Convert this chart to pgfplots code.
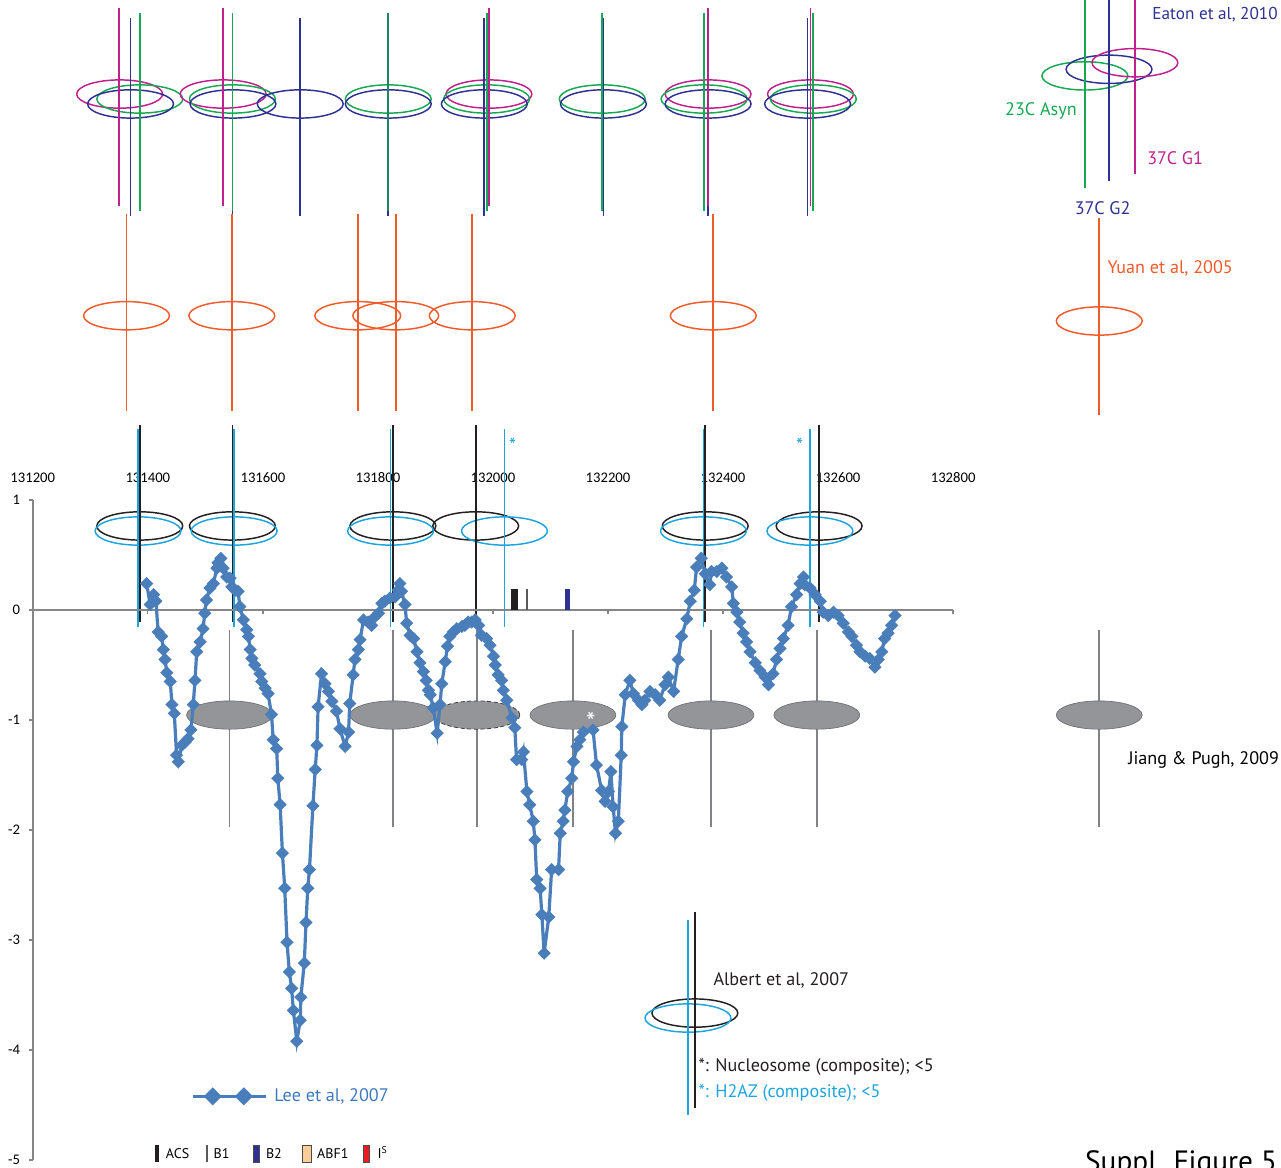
\documentclass[border=0pt]{standalone}
\usepackage{fontspec}
\usepackage{pgfplots}
\pgfplotsset{compat=1.18}
\setmainfont{PT Sans}
\newfontfamily\tickfont{Carlito}

\definecolor{leeblue}{RGB}{74,126,187}
\definecolor{leetext}{RGB}{62,120,190}
\definecolor{eatmag}{RGB}{192,32,142}
\definecolor{eatgreen}{RGB}{22,168,82}
\definecolor{eatblue}{RGB}{46,49,146}
\definecolor{yuanorange}{RGB}{241,90,41}
\definecolor{h2az}{RGB}{28,164,222}
\definecolor{nucblack}{RGB}{35,31,32}
\definecolor{jpgray}{RGB}{128,130,133}
\definecolor{jpfill}{RGB}{147,149,152}
\definecolor{axgray}{RGB}{134,134,134}
\definecolor{abfpeach}{RGB}{252,204,153}
\definecolor{isred}{RGB}{237,28,36}

% vertical position marker: style, x, y top, y bottom
\newcommand{\vstem}[4]{\draw[#1, line width=1.3pt] (axis cs:#2,#3) -- (axis cs:#2,#4);}
% nucleosome outline: style, centre x, centre y
\newcommand{\ring}[3]{\draw[#1, line width=1.1pt] (axis cs:#2,#3) ellipse [x radius=32.2pt, y radius=10.6pt];}
% filled nucleosome (Jiang & Pugh)
\newcommand{\disc}[2]{\filldraw[fill=jpfill, draw=jpgray!85!black, line width=0.5pt] (axis cs:#1,#2) ellipse [x radius=32.2pt, y radius=10.6pt];}

\newcommand{\annot}[5]{\node[anchor=base west, inner sep=0pt, text=#1, font=\fontsize{#2}{#2}\selectfont] at (axis cs:#3,#4) {#5};}

\begin{document}
\begin{tikzpicture}
\begin{axis}[
  scale only axis, width=690.2pt, height=495pt,
  xmin=131200, xmax=132800, ymin=-5, ymax=1,
  clip=false,
  scaled ticks=false,
  axis y line*=left, axis x line*=top,
  x axis line style={draw=none},
  y axis line style={axgray, line width=1.1pt},
  xtick={131200,131400,131600,131800,132000,132200,132400,132600,132800},
  xticklabels={131200,131400,131600,131800,132000,132200,132400,132600,132800},
  ytick={-5,-4,-3,-2,-1,0,1},
  yticklabels={-5,-4,-3,-2,-1,0,1},
  x tick style={draw=none},
  y tick style={axgray, line width=1.1pt},
  tick align=outside, major tick length=3pt,
  ticklabel style={font=\tickfont\fontsize{11}{13}\selectfont, text=black},
  xticklabel style={anchor=south, yshift=6.5pt},
  yticklabel style={xshift=-3pt},
  legend style={at={(axis cs:131476,-4.421)}, anchor=west, draw=none, fill=none,
    inner sep=0pt, outer sep=0pt, font=\fontsize{13.6}{15}\selectfont, text=leetext},
  legend image code/.code={
    \draw[#1, mark=none] (0pt,0pt) -- (54.75pt,0pt);
    \draw[#1, only marks, mark size=3.6pt] plot coordinates {(14.7pt,0pt) (38pt,0pt)};
  },
]

% ---------- Eaton et al, 2010 (magenta 37C G1, green 23C Asyn, blue 37C G2)
\ring{eatmag}{131351}{4.69}\ring{eatgreen}{131386}{4.645}\ring{eatblue}{131370}{4.60}
\vstem{eatmag}{131350}{5.473}{3.673}\vstem{eatblue}{131370}{5.382}{3.582}\vstem{eatgreen}{131386}{5.427}{3.627}

\ring{eatmag}{131531}{4.69}\ring{eatgreen}{131547}{4.645}\ring{eatblue}{131548}{4.60}
\vstem{eatmag}{131531}{5.473}{3.673}\vstem{eatblue}{131547}{5.382}{3.582}\vstem{eatgreen}{131547}{5.427}{3.627}

\ring{eatblue}{131665}{4.60}
\vstem{eatblue}{131665}{5.382}{3.582}

\ring{eatgreen}{131818}{4.645}\ring{eatblue}{131818}{4.60}
\vstem{eatblue}{131818}{5.382}{3.582}\vstem{eatgreen!70!eatblue}{131818}{5.427}{3.627}

\ring{eatmag}{131993}{4.69}\ring{eatgreen}{131989}{4.645}\ring{eatblue}{131985}{4.60}
\vstem{eatblue}{131985}{5.382}{3.582}\vstem{eatgreen}{131990}{5.427}{3.627}\vstem{eatmag}{131993}{5.473}{3.673}

\ring{eatgreen}{132190}{4.645}\ring{eatblue}{132192}{4.60}
\vstem{eatblue}{132192}{5.382}{3.582}\vstem{eatgreen}{132190}{5.427}{3.627}

\ring{eatmag}{132374}{4.69}\ring{eatgreen}{132367}{4.645}\ring{eatblue}{132374}{4.60}
\vstem{eatblue}{132374}{5.382}{3.582}\vstem{eatgreen}{132367}{5.427}{3.627}\vstem{eatmag}{132374}{5.473}{3.673}

\ring{eatmag}{132552}{4.69}\ring{eatgreen}{132557}{4.645}\ring{eatblue}{132547}{4.60}
\vstem{eatblue}{132547}{5.382}{3.582}\vstem{eatmag}{132552}{5.473}{3.673}\vstem{eatgreen}{132557}{5.427}{3.627}

% key
\ring{eatgreen}{133029}{4.855}\ring{eatblue}{133071}{4.915}\ring{eatmag}{133116}{4.975}
\vstem{eatgreen}{133029}{5.6}{3.839}\vstem{eatblue}{133071}{5.6}{3.90}\vstem{eatmag}{133116}{5.6}{3.961}
\annot{eatblue}{12.9}{133146}{5.364}{Eaton et al, 2010}
\annot{eatgreen}{13.6}{132890}{4.494}{23C Asyn}
\annot{eatmag}{13.6}{133137}{4.052}{37C G1}
\annot{eatblue}{13.6}{133011}{3.591}{37C G2}

% ---------- Yuan et al, 2005
\ring{yuanorange}{131363}{2.675}\ring{yuanorange}{131546}{2.675}\ring{yuanorange}{131765}{2.675}
\ring{yuanorange}{131831}{2.675}\ring{yuanorange}{131964}{2.675}\ring{yuanorange}{132383}{2.675}
\vstem{yuanorange}{131363}{3.60}{1.809}\vstem{yuanorange}{131546}{3.60}{1.809}\vstem{yuanorange}{131765}{3.60}{1.809}
\vstem{yuanorange}{131831}{3.60}{1.809}\vstem{yuanorange}{131964}{3.60}{1.809}\vstem{yuanorange}{132383}{3.60}{1.809}
\ring{yuanorange}{133054}{2.627}
\vstem{yuanorange}{133054}{3.564}{1.773}
\annot{yuanorange}{13.6}{133068}{3.055}{Yuan et al, 2005}

% ---------- Albert et al, 2007 (nucleosome black, H2A.Z cyan)
\ring{nucblack}{131386}{0.764}\ring{nucblack}{131547}{0.764}\ring{nucblack}{131826}{0.764}
\ring{nucblack}{131970}{0.764}\ring{nucblack}{132369}{0.764}\ring{nucblack}{132567}{0.764}
\ring{h2az}{131383}{0.718}\ring{h2az}{131550}{0.718}\ring{h2az}{131822}{0.718}
\ring{h2az}{132020}{0.718}\ring{h2az}{132366}{0.718}\ring{h2az}{132551}{0.718}
\vstem{nucblack}{131386}{1.685}{-0.106}\vstem{nucblack}{131547}{1.685}{-0.106}\vstem{nucblack}{131826}{1.685}{-0.106}
\vstem{nucblack}{131970}{1.685}{-0.106}\vstem{nucblack}{132369}{1.685}{-0.106}\vstem{nucblack}{132567}{1.685}{-0.106}
\vstem{h2az}{131383}{1.645}{-0.152}\vstem{h2az}{131550}{1.645}{-0.152}\vstem{h2az}{131822}{1.645}{-0.152}
\vstem{h2az}{132020}{1.645}{-0.152}\vstem{h2az}{132366}{1.645}{-0.152}\vstem{h2az}{132551}{1.645}{-0.152}
\node[text=h2az, font=\fontsize{15}{15}\selectfont, inner sep=0pt] at (axis cs:132034,1.50) {*};
\node[text=h2az, font=\fontsize{15}{15}\selectfont, inner sep=0pt] at (axis cs:132533,1.50) {*};
% key
\ring{nucblack}{132351}{-3.664}\ring{h2az}{132339}{-3.709}
\vstem{nucblack}{132351}{-2.745}{-4.527}\vstem{h2az}{132339}{-2.818}{-4.59}
\annot{nucblack}{13.6}{132383}{-3.409}{Albert et al, 2007}
\annot{nucblack}{13.6}{132357}{-4.191}{*: Nucleosome (composite); <5}
\annot{h2az}{13.6}{132357}{-4.436}{*: H2AZ (composite); <5}

% ---------- Jiang & Pugh, 2009
\vstem{jpgray}{131542}{-0.182}{-1.973}\vstem{jpgray}{131826}{-0.182}{-1.973}\vstem{jpgray}{131972}{-0.182}{-1.973}
\vstem{jpgray}{132139}{-0.182}{-1.973}\vstem{jpgray}{132379}{-0.182}{-1.973}\vstem{jpgray}{132563}{-0.182}{-1.973}
\vstem{jpgray}{133054}{-0.182}{-1.973}
\disc{131542}{-0.955}\disc{131826}{-0.955}\disc{132139}{-0.955}
\disc{132379}{-0.955}\disc{132563}{-0.955}\disc{133054}{-0.955}
\filldraw[fill=jpfill, draw=black!75, line width=0.6pt, dash pattern=on 3pt off 2pt]
  (axis cs:131972,-0.955) ellipse [x radius=32.2pt, y radius=10.6pt];
\node[text=white, font=\fontsize{20}{20}\selectfont, inner sep=0pt] at (axis cs:132170,-1.02) {*};
\annot{black}{13.6}{133104}{-1.40}{Jiang \& Pugh, 2009}

% ---------- x axis through zero with its ticks
\draw[axgray, line width=1.1pt] (axis cs:131200,0) -- (axis cs:132800,0);
\draw[axgray, line width=1pt] (axis cs:131200,0) -- (axis cs:131200,-0.035)
  (axis cs:131400,0) -- (axis cs:131400,-0.035) (axis cs:131600,0) -- (axis cs:131600,-0.035)
  (axis cs:131800,0) -- (axis cs:131800,-0.035) (axis cs:132000,0) -- (axis cs:132000,-0.035)
  (axis cs:132200,0) -- (axis cs:132200,-0.035) (axis cs:132400,0) -- (axis cs:132400,-0.035)
  (axis cs:132600,0) -- (axis cs:132600,-0.035) (axis cs:132800,0) -- (axis cs:132800,-0.035);

% ---------- sequence elements: ACS, B1, B2
\addplot[ycomb, mark=none, nucblack, line width=5pt, forget plot] coordinates {(132037,0.194)};
\addplot[ycomb, mark=none, black!65, line width=1.5pt, forget plot] coordinates {(132060,0.194)};
\addplot[ycomb, mark=none, eatblue, line width=3.6pt, forget plot] coordinates {(132129,0.194)};

% ---------- Lee et al, 2007 nucleosome occupancy
\addplot[leeblue, line width=2.4pt, mark=square*, mark size=2.3pt,
  mark options={rotate=45, solid}] coordinates {
(131398,0.24) (131404,0.05) (131410,0.14) (131414,0.08) (131418,-0.20)
(131424,-0.24) (131427,-0.36) (131430,-0.45) (131433,-0.57) (131439,-0.65)
(131442,-0.86) (131446,-0.94) (131450,-1.32) (131453,-1.38) (131459,-1.23)
(131465,-1.20) (131470,-1.17) (131475,-1.09) (131479,-0.86) (131482,-0.64)
(131485,-0.38) (131491,-0.29) (131496,-0.17) (131499,-0.03) (131502,0.09)
(131508,0.20) (131514,0.24) (131520,0.38) (131522,0.43) (131527,0.47)
(131531,0.38) (131537,0.30) (131543,0.29) (131546,0.21) (131552,0.18)
(131557,0.17) (131560,0.03) (131566,-0.09) (131572,-0.18) (131575,-0.24)
(131578,-0.36) (131581,-0.44) (131586,-0.50) (131595,-0.58) (131598,-0.65)
(131604,-0.71) (131609,-0.76) (131615,-0.95) (131618,-1.18) (131624,-1.26)
(131626,-1.53) (131630,-1.77) (131634,-2.21) (131638,-2.53) (131642,-3.02)
(131646,-3.29) (131650,-3.44) (131653,-3.64) (131659,-3.92) (131665,-3.73)
(131666,-3.52) (131672,-3.21) (131675,-2.84) (131678,-2.53) (131681,-2.36)
(131687,-1.78) (131691,-1.45) (131694,-1.23) (131696,-0.88) (131702,-0.58)
(131708,-0.67) (131714,-0.74) (131720,-0.83) (131728,-0.92) (131734,-1.08)
(131743,-1.24) (131749,-1.11) (131751,-0.85) (131757,-0.59) (131760,-0.45)
(131766,-0.36) (131769,-0.27) (131775,-0.09) (131783,-0.11) (131789,-0.14)
(131795,-0.06) (131801,-0.03) (131807,0.06) (131812,0.08) (131821,0.11)
(131830,0.12) (131835,0.18) (131838,0.24) (131841,0.17) (131847,0.05)
(131850,-0.12) (131856,-0.23) (131862,-0.26) (131868,-0.38) (131873,-0.48)
(131879,-0.56) (131884,-0.64) (131888,-0.73) (131891,-0.77) (131896,-0.89)
(131903,-1.12) (131908,-0.86) (131911,-0.67) (131917,-0.47) (131921,-0.33)
(131925,-0.24) (131931,-0.20) (131937,-0.17) (131946,-0.15) (131951,-0.14)
(131957,-0.11) (131963,-0.11) (131969,-0.09) (131975,-0.14) (131980,-0.23)
(131989,-0.26) (131995,-0.32) (132001,-0.42) (132004,-0.50) (132009,-0.59)
(132015,-0.64) (132018,-0.73) (132024,-0.82) (132033,-0.98) (132038,-1.07)
(132041,-1.36) (132050,-1.36) (132053,-1.29) (132059,-1.65) (132064,-1.77)
(132070,-1.92) (132073,-2.09) (132076,-2.45) (132082,-2.53) (132085,-2.77)
(132089,-3.12) (132097,-2.79) (132102,-2.36) (132114,-2.36) (132117,-2.03)
(132122,-1.92) (132125,-1.82) (132130,-1.65) (132137,-1.53) (132140,-1.38)
(132146,-1.24) (132151,-1.18) (132157,-1.11) (132174,-1.09) (132180,-1.41)
(132189,-1.64) (132195,-1.74) (132201,-1.65) (132205,-1.47) (132209,-1.79)
(132213,-2.03) (132218,-1.92) (132223,-1.32) (132224,-1.06) (132230,-0.77)
(132238,-0.64) (132244,-0.76) (132253,-0.82) (132259,-0.86) (132264,-0.82)
(132273,-0.74) (132282,-0.77) (132290,-0.82) (132299,-0.68) (132305,-0.61)
(132314,-0.74) (132322,-0.45) (132328,-0.24) (132337,-0.08) (132343,0.08)
(132350,0.18) (132354,0.39) (132362,0.47) (132369,0.33) (132377,0.23)
(132380,0.35) (132389,0.35) (132398,0.38) (132406,0.30) (132415,0.21)
(132418,0.06) (132424,-0.02) (132429,-0.11) (132435,-0.21) (132441,-0.29)
(132447,-0.38) (132456,-0.48) (132464,-0.55) (132473,-0.61) (132479,-0.68)
(132487,-0.58) (132493,-0.45) (132499,-0.35) (132505,-0.26) (132513,-0.14)
(132519,0.03) (132528,0.14) (132534,0.24) (132540,0.30) (132542,0.23)
(132551,0.20) (132560,0.14) (132569,0.08) (132574,-0.02) (132583,-0.05)
(132592,-0.02) (132600,-0.05) (132609,-0.12) (132618,-0.20) (132624,-0.24)
(132632,-0.32) (132638,-0.38) (132647,-0.42) (132655,-0.44) (132664,-0.52)
(132670,-0.45) (132676,-0.38) (132681,-0.26) (132687,-0.21) (132693,-0.14)
(132699,-0.05)
};
\addlegendentry{\hspace{3pt}Lee et al, 2007}

% ---------- key for sequence elements
\fill[nucblack] (axis cs:131412,-4.864) rectangle (axis cs:131419,-5.018);
\annot{black}{10.5}{131431}{-4.99}{ACS}
\fill[black!65] (axis cs:131501,-4.864) rectangle (axis cs:131504,-5.018);
\annot{black}{10.5}{131514}{-4.99}{B1}
\filldraw[fill=eatblue, draw=black!70, line width=0.4pt] (axis cs:131583,-4.864) rectangle (axis cs:131594,-5.018);
\annot{black}{10.5}{131605}{-4.99}{B2}
\filldraw[fill=abfpeach, draw=black!70, line width=0.4pt] (axis cs:131669,-4.864) rectangle (axis cs:131684,-5.018);
\annot{black}{10.5}{131694}{-4.99}{ABF1}
\filldraw[fill=isred, draw=black!70, line width=0.4pt] (axis cs:131774,-4.864) rectangle (axis cs:131785,-5.018);
\annot{black}{10.5}{131799}{-4.99}{I\textsuperscript{S}}

\annot{black}{22}{133029}{-5.10}{Suppl. Figure 5}

\coordinate (bbSW) at (axis cs:131143,-5.064);
\coordinate (bbNE) at (axis cs:133370,5.545);
\end{axis}
\pgfresetboundingbox
\useasboundingbox (bbSW) rectangle (bbNE);
\end{tikzpicture}
\end{document}
